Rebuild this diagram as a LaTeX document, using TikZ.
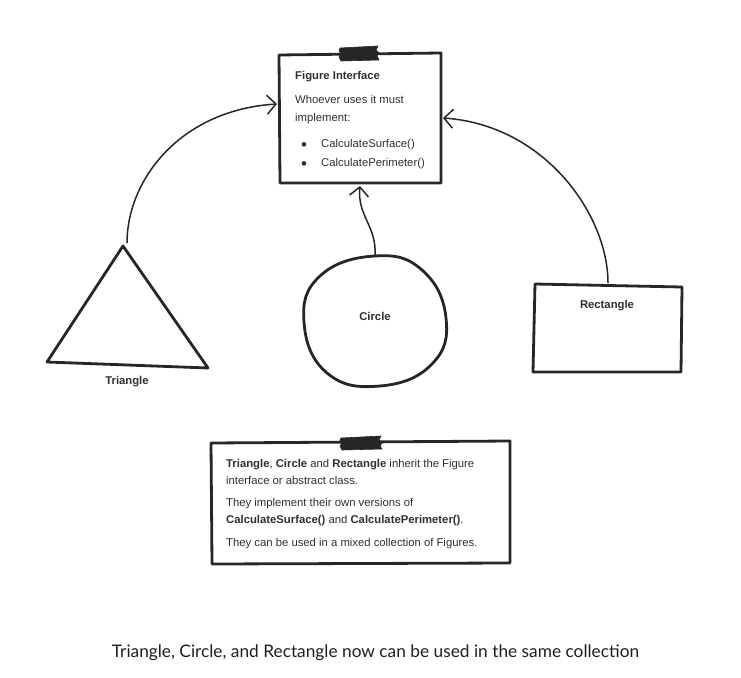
\documentclass[tikz,border=0pt]{standalone}
\usepackage{fontspec}
\setmainfont{Liberation Sans}
\newfontfamily\capfont{Lato}
\usetikzlibrary{arrows.meta}
\definecolor{ink}{HTML}{262626}
\definecolor{txt}{HTML}{303030}
\tikzset{
  sketch/.style={draw=ink, line width=2.8pt, line join=round, line cap=round},
  link/.style={draw=ink, line width=1.5pt, -{Straight Barb[length=9pt,width=19pt,line width=1.5pt]}},
  tape/.style={fill=ink, draw=ink, line width=0.6pt},
  body/.style={text=txt, inner sep=0pt, anchor=base west, font=\fontsize{11.3}{14}\selectfont},
  label/.style={text=txt, inner sep=0pt, anchor=base, font=\fontsize{11.3}{14}\selectfont\bfseries},
}
\begin{document}
\begin{tikzpicture}[x=1pt,y=-1pt]
\useasboundingbox[fill=white] (0,0) rectangle (741,677);

% ---- Figure interface box
\coordinate (fTL) at (279,55);
\coordinate (fTR) at (441,53);
\coordinate (fBR) at (441,183);
\coordinate (fBL) at (280,183);
\draw[sketch] (fTL) -- (fTR) -- (fBR) -- (fBL) -- cycle;
\fill[tape] (340,48) -- (378,46) -- (376,50) -- (379,53) -- (377,56) -- (379,60) -- (341,61) -- (339,57) -- (341,54) -- (339,51) -- cycle;
\node[body, font=\fontsize{11.3}{14}\selectfont\bfseries] (fTitle) at (295,79) {Figure Interface};
\node[body] (fL1) at (295,103) {Whoever uses it must};
\node[body] (fL2) at (295,121) {implement:};
\node[body, anchor=center] (fB1) at (304,146.5) {\fontsize{17}{17}\selectfont\textbullet};
\node[body] (fI1) at (321,147) {CalculateSurface()};
\node[body, anchor=center] (fB2) at (304,165.5) {\fontsize{17}{17}\selectfont\textbullet};
\node[body] (fI2) at (321,166) {CalculatePerimeter()};
\coordinate (fLeft) at (277,104);
\coordinate (fRight) at (443,118);
\coordinate (fBottom) at (360,186);

% ---- Triangle
\coordinate (tTop) at (123,246);
\coordinate (tBL) at (47,362);
\coordinate (tBR) at (208,368);
\draw[sketch] (tTop) -- (tBR) -- (tBL) -- cycle;
\node[label] (tLabel) at (127,384) {Triangle};
\coordinate (tStart) at (127,243);

% ---- Circle
\draw[sketch] plot[smooth cycle, tension=0.75] coordinates {
  (375,256) (422,270) (446,318) (432,364) (380,386) (327,373) (304,322) (320,276)};
\node[label] (cLabel) at (375,320) {Circle};
\coordinate (cTop) at (375,256);

% ---- Rectangle
\coordinate (rTL) at (535,284);
\coordinate (rTR) at (682,287);
\coordinate (rBR) at (681,372);
\coordinate (rBL) at (533,372);
\draw[sketch] (rTL) -- (rTR) -- (rBR) -- (rBL) -- cycle;
\node[label] (rLabel) at (607,308) {Rectangle};
\coordinate (rTop) at (608,283);

% ---- connectors
\draw[link] (tStart) .. controls (127,180) and (180,110) .. (fLeft);
\draw[link] (rTop) .. controls (608,215) and (545,125) .. (fRight);
\draw[link] (cTop) .. controls (377,226) and (357,216) .. (fBottom);

% ---- note box
\coordinate (nTL) at (211,443);
\coordinate (nTR) at (510,441);
\coordinate (nBR) at (510,563);
\coordinate (nBL) at (212,564);
\draw[sketch] (nTL) -- (nTR) -- (nBR) -- (nBL) -- cycle;
\fill[tape] (341,438) -- (381,436) -- (379,440) -- (382,443) -- (380,446) -- (382,449) -- (342,450) -- (340,446) -- (342,443) -- (340,440) -- cycle;
\node[body] (n1) at (226,467) {\textbf{Triangle}, \textbf{Circle} and \textbf{Rectangle} inherit the Figure};
\node[body] (n2) at (226,484) {interface or abstract class.};
\node[body] (n3) at (226,506) {They implement their own versions of};
\node[body] (n4) at (226,523) {\textbf{CalculateSurface()} and \textbf{CalculatePerimeter()}.};
\node[body] (n5) at (226,546) {They can be used in a mixed collection of Figures.};

% ---- caption
\node[inner sep=0pt, anchor=base, text=black!88, font=\capfont\fontsize{17.3}{19}\selectfont] (caption) at (375.5,657) {Triangle, Circle, and Rectangle now can be used in the same collection};
\end{tikzpicture}
\end{document}
